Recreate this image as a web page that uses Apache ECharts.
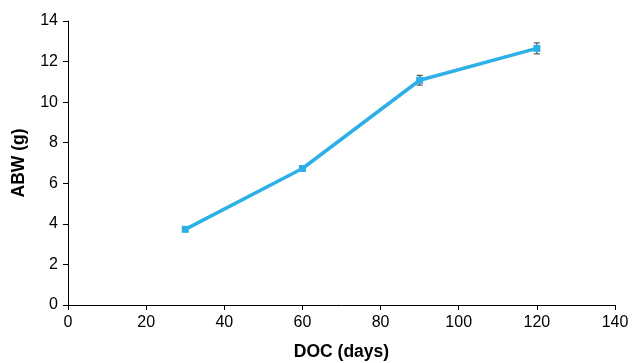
<!DOCTYPE html>
<html><head><meta charset="utf-8">
<script src="https://cdn.jsdelivr.net/npm/echarts@6/dist/echarts.min.js"></script>
<style>html,body{margin:0;padding:0;background:#fff}#c{width:632px;height:363px}</style>
</head><body><div id="c"></div>
<script>
var docDays = [30, 60, 90, 120];
var abw = [3.73, 6.73, 11.08, 12.65];
var abwErr = [0.1, 0.1, 0.24, 0.27];
var xTitle = 'DOC (days)';
var yTitle = 'ABW (g)';

var lineData = docDays.map(function(d, i){ return [d, abw[i]]; });
var errData = docDays.map(function(d, i){ return [d, abw[i] - abwErr[i], abw[i] + abwErr[i]]; });

var chart = echarts.init(document.getElementById('c'));
var font = 'Liberation Sans, Arial, sans-serif';
chart.setOption({
  animation: false,
  grid: {left: 68, right: 17, top: 21, bottom: 58, containLabel: false, outerBoundsMode: 'none'},
  xAxis: {
    type: 'value', min: 0, max: 140, interval: 20,
    name: xTitle, nameLocation: 'middle', nameGap: 38,
    nameTextStyle: {fontFamily: font, fontSize: 17.5, fontWeight: 'bold', color: '#000'},
    axisLine: {show: true, onZero: false, lineStyle: {color: '#000', width: 1}},
    axisTick: {show: true, length: 5, lineStyle: {color: '#000'}},
    axisLabel: {fontFamily: font, fontSize: 16, color: '#000', margin: 10},
    splitLine: {show: false}
  },
  yAxis: {
    type: 'value', min: 0, max: 14, interval: 2,
    name: yTitle, nameLocation: 'middle', nameGap: 40, nameRotate: 90,
    nameTextStyle: {fontFamily: font, fontSize: 17.5, fontWeight: 'bold', color: '#000'},
    axisLine: {show: true, lineStyle: {color: '#000', width: 1}},
    axisTick: {show: true, length: 5, lineStyle: {color: '#000'}},
    axisLabel: {fontFamily: font, fontSize: 16, color: '#000', margin: 10},
    splitLine: {show: false}
  },
  series: [
    {
      type: 'custom', data: errData, z: 2,
      renderItem: function(params, api){
        var x = api.value(0);
        var lo = api.coord([x, api.value(1)]);
        var hi = api.coord([x, api.value(2)]);
        var w = 3;
        var st = {stroke: '#555', lineWidth: 1.2};
        return {type: 'group', children: [
          {type: 'line', shape: {x1: lo[0], y1: lo[1], x2: hi[0], y2: hi[1]}, style: st},
          {type: 'line', shape: {x1: lo[0]-w, y1: lo[1], x2: lo[0]+w, y2: lo[1]}, style: st},
          {type: 'line', shape: {x1: hi[0]-w, y1: hi[1], x2: hi[0]+w, y2: hi[1]}, style: st}
        ]};
      }
    },
    {
      type: 'line', data: lineData, z: 3,
      symbol: 'rect', symbolSize: 7,
      lineStyle: {color: '#2db0e6', width: 3.5},
      itemStyle: {color: '#2db0e6', borderColor: '#2db0e6', borderWidth: 0}
    }
  ]
});
</script></body></html>
